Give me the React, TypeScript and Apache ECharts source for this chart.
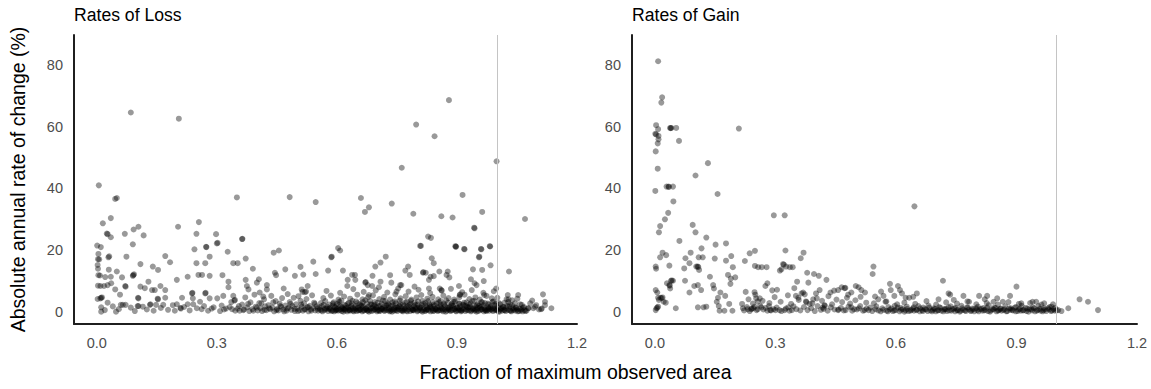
import React, { useEffect, useRef } from "react";
import * as echarts from "echarts";

const FONT = "'Liberation Sans', Arial, Helvetica, sans-serif";

const xTicks = [0, 0.3, 0.6, 0.9, 1.2];
const yTicks = [0, 20, 40, 60, 80];
const thresholdX = 1.0;

// ---------- Rates of Loss ----------
const lossHigh: number[][] = [
  [0.085, 64.6], [0.205, 62.6], [0.88, 68.6], [0.798, 60.7], [0.844, 56.9], [0.762, 46.7], [0.999, 48.8],
  [0.005, 41.0], [0.046, 36.6], [0.05, 36.9], [0.35, 37.1], [0.482, 37.2], [0.547, 35.6], [0.66, 36.9],
  [0.67, 32.4], [0.68, 33.9], [0.737, 35.1], [0.791, 31.8], [0.914, 37.9], [0.861, 31.0], [0.889, 30.6],
  [0.963, 32.4], [0.943, 27.3], [1.07, 30.1], [0.015, 28.7], [0.035, 30.4], [0.025, 25.4], [0.027, 25.2],
  [0.035, 24.2], [0.07, 25.3], [0.092, 26.7], [0.104, 27.6], [0.117, 24.8], [0.09, 21.9], [0.001, 21.5],
  [0.01, 21.0], [0.203, 27.6], [0.255, 29.1], [0.249, 25.3], [0.298, 25.2], [0.3, 22.2], [0.302, 22.4],
  [0.363, 23.6], [0.273, 21.1], [0.244, 20.3], [0.835, 24.0], [0.808, 21.4], [0.896, 21.3], [0.897, 21.1],
  [0.918, 20.4], [0.96, 20.4], [0.982, 21.3], [0.603, 20.7], [0.608, 19.9], [0.442, 19.2], [0.455, 19.9],
  [0.327, 19.5], [0.828, 24.4], [0.944, 27.1],
];

const lossMid: number[][] = [
  [0.004, 18.8], [0.003, 17.1], [0.006, 17.0], [0.002, 15.2], [0.003, 14.0], [0.004, 11.9], [0.008, 11.8],
  [0.003, 8.5], [0.009, 8.4], [0.002, 4.2], [0.009, 4.4], [0.011, 0.1], [0.011, 1.5], [0.029, 17.7],
  [0.031, 18.0], [0.021, 11.3], [0.03, 13.7], [0.018, 8.4], [0.027, 8.7], [0.036, 9.3], [0.035, 11.4],
  [0.011, 4.6], [0.013, 4.7], [0.027, 3.0], [0.046, 7.3], [0.05, 13.1], [0.058, 5.6], [0.063, 11.2],
  [0.074, 17.9], [0.09, 11.7], [0.091, 11.9], [0.093, 12.2], [0.071, 8.4], [0.072, 8.2], [0.072, 2.3],
  [0.065, 2.3], [0.06, 2.3], [0.048, 0.1], [0.103, 4.6], [0.104, 4.4], [0.104, 1.9], [0.102, 1.9],
  [0.109, 8.2], [0.109, 15.5], [0.12, 7.7], [0.129, 9.8], [0.133, 2.3], [0.134, 2.5], [0.14, 14.7],
  [0.153, 13.6], [0.138, 7.1], [0.145, 7.1], [0.153, 4.1], [0.152, 4.3], [0.148, 2.3], [0.159, 8.4],
  [0.171, 18.1], [0.171, 7.1], [0.171, 4.6], [0.166, 2.3], [0.183, 16.1], [0.2, 10.4], [0.2, 2.5],
  [0.209, 1.3], [0.21, 1.1], [0.213, 4.6], [0.227, 11.4], [0.227, 2.5], [0.241, 2.5], [0.249, 15.8],
  [0.238, 6.0], [0.239, 6.2], [0.24, 4.4], [0.25, 1.2], [0.254, 12.0], [0.263, 12.0], [0.258, 3.3],
  [0.271, 15.8], [0.271, 6.0], [0.272, 6.2], [0.274, 21.0], [0.282, 17.9], [0.282, 11.7], [0.282, 4.4],
  [0.287, 1.1], [0.301, 4.4], [0.314, 11.9], [0.316, 5.2], [0.323, 1.1], [0.329, 9.8], [0.329, 8.0],
  [0.341, 15.8], [0.352, 15.8], [0.341, 5.2], [0.344, 3.7], [0.345, 3.9], [0.338, 0.9], [0.364, 23.7],
  [0.372, 17.3], [0.372, 10.4], [0.375, 8.4], [0.379, 7.3], [0.39, 14.0], [0.4, 9.5], [0.405, 10.6],
  [0.407, 6.3], [0.416, 5.0], [0.425, 8.7], [0.425, 7.3], [0.445, 12.7], [0.448, 11.9], [0.467, 7.6],
  [0.471, 13.8], [0.495, 11.7], [0.509, 14.6], [0.512, 7.3], [0.516, 12.1], [0.514, 6.5], [0.52, 6.4],
  [0.523, 6.6], [0.527, 8.4], [0.541, 16.3], [0.547, 12.3], [0.578, 13.4], [0.587, 17.9], [0.586, 17.7],
  [0.615, 13.4], [0.626, 8.4], [0.627, 10.4], [0.638, 12.0], [0.645, 12.0], [0.646, 10.4], [0.671, 9.5],
  [0.672, 9.7], [0.677, 8.7], [0.68, 5.5], [0.688, 8.4], [0.689, 11.7], [0.696, 14.7], [0.709, 16.0],
  [0.722, 17.9], [0.709, 9.8], [0.705, 8.0], [0.733, 11.9], [0.736, 9.5], [0.749, 6.6], [0.758, 8.7],
  [0.761, 8.7], [0.771, 13.4], [0.778, 14.7], [0.782, 12.0], [0.794, 8.2], [0.81, 21.4], [0.815, 12.7],
  [0.816, 12.9], [0.822, 12.7], [0.83, 10.4], [0.834, 11.4], [0.837, 17.4], [0.842, 15.8], [0.842, 11.6],
  [0.83, 7.6], [0.856, 13.1], [0.857, 7.6], [0.861, 7.1], [0.874, 12.0], [0.877, 13.1], [0.881, 11.2],
  [0.898, 21.2], [0.907, 5.5], [0.908, 5.7], [0.905, 8.4], [0.919, 20.3], [0.935, 10.6], [0.94, 13.8],
  [0.944, 9.3], [0.949, 8.7], [0.955, 17.7], [0.956, 17.9], [0.961, 20.3], [0.963, 13.6], [0.967, 10.0],
  [0.968, 5.5], [0.983, 21.2], [0.984, 15.1], [0.998, 7.6], [1.03, 13.1], [1.027, 5.5], [1.053, 5.5],
  [1.088, 3.7], [1.115, 5.7], [1.12, 3.3], [1.136, 1.2], [1.11, 0.9], [1.112, 1.1], [1.12, 2.2],
  [1.098, 2.2], [1.079, 1.2], [1.029, 4.1], [1.038, 3.8], [1.091, 1.2], [1.105, 0.8],
  [0.02, 0.6], [0.04, 1.8], [0.055, 0.9], [0.085, 1.4], [0.095, 0.3], [0.115, 1.7], [0.125, 0.8],
  [0.142, 0.4], [0.16, 1.3], [0.178, 0.7], [0.19, 2.2], [0.195, 0.4], [0.218, 1.6], [0.232, 0.5],
  [0.262, 0.9], [0.268, 1.9], [0.278, 0.4], [0.292, 1.5], [0.308, 0.3], [0.312, 2.1], [0.318, 0.8],
  [0.332, 1.6], [0.336, 3.2], [0.346, 0.4],
];

const lossLowLeft: number[][] = [
  [0.352, 1.1], [0.357, 0.4], [0.363, 2.4], [0.368, 0.8], [0.371, 4.7], [0.376, 1.5], [0.381, 0.3],
  [0.384, 3.1], [0.389, 0.9], [0.394, 5.6], [0.397, 1.7], [0.402, 0.5], [0.406, 2.9], [0.409, 1.2],
  [0.413, 0.3], [0.418, 4.1], [0.421, 1.8], [0.424, 0.6], [0.429, 2.2], [0.433, 0.9], [0.436, 5.2],
  [0.439, 1.4], [0.443, 0.2], [0.447, 3.5], [0.451, 1.0], [0.454, 0.5], [0.457, 2.7], [0.461, 1.6],
  [0.463, 4.5], [0.466, 0.8], [0.471, 2.1], [0.474, 0.4], [0.477, 5.8], [0.479, 1.3], [0.482, 3.2],
  [0.486, 0.7], [0.489, 1.9], [0.492, 4.6], [0.495, 0.3], [0.498, 2.5], [0.501, 1.1], [0.504, 5.1],
  [0.507, 0.6], [0.509, 3.6], [0.512, 1.7], [0.515, 0.4], [0.518, 2.8], [0.521, 0.9], [0.524, 4.2],
  [0.526, 1.5], [0.529, 0.2], [0.532, 2.0], [0.535, 0.8], [0.538, 5.4], [0.541, 1.2], [0.543, 3.0],
  [0.546, 0.5], [0.549, 1.8],
  [0.355, 1.9], [0.366, 0.6], [0.378, 2.6], [0.391, 0.4], [0.4, 1.4], [0.411, 2.8], [0.419, 0.7],
  [0.431, 1.2], [0.441, 3.1], [0.449, 0.6], [0.459, 1.9], [0.468, 0.2], [0.476, 1.1], [0.484, 2.6],
  [0.494, 1.0], [0.503, 0.3], [0.511, 2.4], [0.519, 0.8], [0.528, 1.6], [0.536, 0.4], [0.545, 2.6],
  [0.552, 1.1], [0.561, 0.5], [0.567, 2.3], [0.575, 1.2],
];

const lossBandLow: number[][] = [
  [0.553, 0.4], [0.558, 0.8], [0.564, 0.2], [0.569, 0.6], [0.573, 0.9], [0.578, 0.3], [0.584, 0.7],
  [0.589, 0.5], [0.593, 0.2], [0.598, 0.9], [0.603, 0.4], [0.607, 0.7], [0.612, 0.3], [0.617, 0.8],
  [0.621, 0.5], [0.626, 0.2], [0.631, 0.6], [0.635, 0.9], [0.64, 0.4], [0.645, 0.7], [0.649, 0.3],
  [0.654, 0.5], [0.659, 0.8], [0.663, 0.2], [0.668, 0.6], [0.672, 0.9], [0.677, 0.4], [0.682, 0.7],
  [0.686, 0.3], [0.691, 0.5], [0.696, 0.8], [0.7, 0.2], [0.705, 0.6], [0.709, 0.4], [0.714, 0.9],
  [0.719, 0.3], [0.723, 0.7], [0.728, 0.5], [0.732, 0.2], [0.737, 0.8], [0.742, 0.4], [0.746, 0.6],
  [0.751, 0.3], [0.755, 0.9], [0.76, 0.5], [0.765, 0.2], [0.769, 0.7], [0.774, 0.4], [0.778, 0.8],
  [0.783, 0.3], [0.788, 0.6], [0.792, 0.5], [0.797, 0.9], [0.801, 0.2], [0.806, 0.7], [0.811, 0.4],
  [0.815, 0.6], [0.82, 0.3], [0.824, 0.8], [0.829, 0.5], [0.834, 0.2], [0.838, 0.7], [0.843, 0.4],
  [0.847, 0.9], [0.852, 0.3], [0.857, 0.6], [0.861, 0.5], [0.866, 0.2], [0.87, 0.8], [0.875, 0.4],
  [0.88, 0.7], [0.884, 0.3], [0.889, 0.6], [0.893, 0.9], [0.898, 0.2], [0.903, 0.5], [0.907, 0.7],
  [0.912, 0.4], [0.916, 0.8], [0.921, 0.3], [0.926, 0.6], [0.93, 0.5], [0.935, 0.2], [0.939, 0.9],
  [0.944, 0.4], [0.949, 0.7], [0.953, 0.3], [0.958, 0.6], [0.962, 0.8], [0.967, 0.2], [0.972, 0.5],
  [0.976, 0.7], [0.981, 0.4], [0.985, 0.9], [0.99, 0.3], [0.995, 0.6], [0.999, 0.5], [1.004, 0.2],
  [1.009, 0.8], [1.013, 0.4], [1.018, 0.6], [1.022, 0.3], [1.027, 0.7], [1.032, 0.5], [1.036, 0.2],
  [1.041, 0.6], [1.046, 0.4], [1.05, 0.8], [1.055, 0.3], [1.06, 0.5], [1.064, 0.2], [1.069, 0.6],
  [1.074, 0.4],
];

const lossBandExtra: number[][] = [
  [0.581, 1.0], [0.587, 0.3], [0.594, 1.6], [0.599, 0.6], [0.605, 2.3], [0.611, 0.9], [0.616, 0.1],
  [0.623, 1.3], [0.629, 0.7], [0.636, 2.0], [0.642, 0.2], [0.648, 1.1], [0.655, 0.6], [0.661, 1.8],
  [0.667, 0.4], [0.674, 1.2], [0.68, 0.1], [0.687, 2.4], [0.693, 0.8], [0.699, 1.5], [0.706, 0.3],
  [0.712, 1.0], [0.718, 0.6], [0.725, 2.2], [0.731, 0.9], [0.738, 0.1], [0.744, 1.4], [0.75, 0.7],
  [0.757, 1.9], [0.763, 0.4], [0.77, 1.1], [0.776, 0.2], [0.782, 2.3], [0.789, 0.8], [0.795, 1.4],
  [0.802, 0.5], [0.808, 1.2], [0.814, 0.1], [0.821, 2.1], [0.827, 0.9], [0.833, 1.5], [0.84, 0.3],
  [0.846, 1.0], [0.853, 0.6], [0.859, 2.4], [0.865, 0.8], [0.872, 0.1], [0.878, 1.3], [0.885, 0.6],
  [0.891, 1.9], [0.897, 0.4], [0.904, 1.1], [0.91, 0.2], [0.917, 2.2], [0.923, 0.8], [0.929, 1.5],
  [0.936, 0.5], [0.942, 1.2], [0.949, 0.1], [0.955, 2.0], [0.961, 0.9], [0.968, 1.4], [0.974, 0.3],
  [0.98, 1.0], [0.987, 0.7], [0.993, 2.3], [1.0, 0.8], [1.006, 0.1], [1.012, 1.3], [1.019, 0.6],
  [1.026, 1.9], [1.034, 0.4], [1.043, 1.0], [1.052, 0.2], [1.061, 0.9], [1.071, 0.3],
];

const lossBandExtra2: number[][] = [
  [0.59, 2.7], [0.597, 0.5], [0.606, 3.3], [0.613, 1.5], [0.62, 0.9], [0.627, 2.6], [0.633, 0.4],
  [0.639, 3.6], [0.646, 1.4], [0.652, 2.9], [0.658, 0.7], [0.664, 2.1], [0.671, 3.8], [0.676, 0.5],
  [0.684, 2.5], [0.689, 1.3], [0.695, 3.2], [0.701, 0.6], [0.708, 2.0], [0.715, 3.7], [0.721, 1.2],
  [0.727, 2.8], [0.734, 0.4], [0.74, 2.2], [0.745, 3.4], [0.752, 1.3], [0.758, 2.6], [0.764, 0.7],
  [0.771, 3.1], [0.777, 1.9], [0.785, 3.6], [0.79, 0.6], [0.796, 2.3], [0.803, 3.4], [0.809, 1.5],
  [0.816, 2.7], [0.823, 0.5], [0.828, 3.5], [0.835, 1.8], [0.842, 2.4], [0.848, 0.7], [0.855, 3.1],
  [0.86, 1.4], [0.867, 2.7], [0.873, 3.8], [0.879, 0.9], [0.886, 2.2], [0.892, 3.3], [0.899, 1.3],
  [0.906, 2.6], [0.911, 0.6], [0.918, 3.0], [0.925, 1.6], [0.931, 2.4], [0.938, 3.5], [0.945, 0.8],
  [0.95, 2.2], [0.957, 1.4], [0.963, 3.1], [0.97, 0.6], [0.977, 2.7], [0.983, 1.5], [0.991, 3.4],
  [0.996, 1.0], [1.005, 2.9], [1.015, 1.7], [1.028, 3.2], [1.038, 2.1], [1.048, 1.3], [1.058, 2.5],
  [1.068, 1.6], [1.083, 2.8], [1.095, 1.7],
];

const lossBandMid: number[][] = [
  [0.556, 1.4], [0.562, 1.9], [0.57, 1.1], [0.576, 1.7], [0.583, 1.3], [0.59, 2.1], [0.596, 1.5],
  [0.602, 1.0], [0.609, 1.8], [0.615, 1.2], [0.622, 2.0], [0.628, 1.4], [0.634, 1.6], [0.641, 1.1],
  [0.647, 1.9], [0.653, 1.3], [0.66, 2.2], [0.666, 1.5], [0.673, 1.0], [0.679, 1.7], [0.685, 1.2],
  [0.692, 2.0], [0.698, 1.4], [0.704, 1.8], [0.711, 1.1], [0.717, 1.6], [0.723, 2.1], [0.73, 1.3],
  [0.736, 1.9], [0.743, 1.0], [0.749, 1.5], [0.755, 1.8], [0.762, 1.2], [0.768, 2.0], [0.774, 1.4],
  [0.781, 1.7], [0.787, 1.1], [0.793, 1.9], [0.8, 1.3], [0.806, 1.6], [0.812, 2.2], [0.819, 1.0],
  [0.825, 1.5], [0.832, 1.8], [0.838, 1.2], [0.844, 2.0], [0.851, 1.4], [0.857, 1.7], [0.863, 1.1],
  [0.87, 1.9], [0.876, 1.3], [0.882, 1.6], [0.889, 2.1], [0.895, 1.0], [0.901, 1.5], [0.908, 1.8],
  [0.914, 1.2], [0.921, 2.0], [0.927, 1.4], [0.933, 1.7], [0.94, 1.1], [0.946, 1.9], [0.952, 1.3],
  [0.959, 1.6], [0.965, 2.2], [0.971, 1.0], [0.978, 1.5], [0.984, 1.8], [0.99, 1.2], [0.997, 2.0],
  [1.003, 1.4], [1.01, 1.1], [1.016, 1.6], [1.023, 1.3], [1.031, 1.8], [1.039, 1.2], [1.047, 1.5],
  [1.056, 1.1], [1.065, 1.4], [1.078, 1.2],
];

const lossBandHigh: number[][] = [
  [0.56, 2.9], [0.571, 3.5], [0.581, 2.4], [0.592, 3.1], [0.6, 2.6], [0.611, 3.7], [0.619, 2.3],
  [0.63, 3.0], [0.638, 2.7], [0.648, 3.4], [0.657, 2.5], [0.665, 3.2], [0.675, 2.8], [0.683, 3.6],
  [0.694, 2.4], [0.702, 3.0], [0.712, 2.6], [0.72, 3.5], [0.729, 2.3], [0.739, 3.1], [0.747, 2.8],
  [0.757, 3.7], [0.765, 2.5], [0.775, 3.3], [0.784, 2.7], [0.794, 3.0], [0.802, 2.4], [0.813, 3.6],
  [0.821, 2.9], [0.831, 2.5], [0.84, 3.2], [0.849, 2.7], [0.859, 3.5], [0.868, 2.3], [0.878, 3.0],
  [0.887, 2.6], [0.896, 3.4], [0.905, 2.8], [0.915, 2.4], [0.924, 3.1], [0.934, 2.7], [0.943, 3.6],
  [0.951, 2.5], [0.961, 3.2], [0.97, 2.9], [0.979, 2.4], [0.989, 3.3], [0.998, 2.7], [1.008, 2.5],
  [1.019, 3.0], [1.033, 2.4], [1.045, 2.8], [1.062, 2.3],
  [0.566, 4.5], [0.585, 5.3], [0.604, 4.0], [0.618, 5.0], [0.633, 4.3], [0.651, 5.6], [0.664, 4.1],
  [0.678, 4.8], [0.69, 5.4], [0.706, 4.2], [0.718, 4.9], [0.733, 4.0], [0.746, 5.7], [0.759, 4.4],
  [0.772, 5.1], [0.786, 4.0], [0.799, 4.7], [0.811, 5.5], [0.826, 4.3], [0.839, 4.9], [0.853, 4.1],
  [0.866, 5.3], [0.879, 4.5], [0.893, 4.0], [0.906, 4.8], [0.919, 5.6], [0.931, 4.2], [0.946, 4.7],
  [0.957, 4.0], [0.974, 5.2], [0.987, 4.4], [1.001, 4.6], [1.024, 4.1], [1.051, 4.3],
  [0.574, 6.8], [0.608, 6.2], [0.641, 7.4], [0.667, 6.5], [0.697, 7.0], [0.726, 6.3], [0.753, 7.6],
  [0.779, 6.6], [0.804, 7.2], [0.833, 6.1], [0.862, 6.9], [0.885, 7.5], [0.913, 6.4], [0.937, 7.1],
  [0.966, 6.2], [0.992, 6.7],
];

// ---------- Rates of Gain ----------
const gainHigh: number[][] = [
  [0.008, 81.2], [0.018, 69.5], [0.016, 67.8], [0.003, 60.5], [0.008, 59.2], [0.001, 57.7], [0.003, 57.5],
  [0.009, 57.0], [0.009, 55.9], [0.007, 54.6], [0.002, 52.0], [0.038, 59.6], [0.039, 59.5], [0.041, 59.6],
  [0.053, 59.6], [0.06, 55.4], [0.209, 59.4], [0.007, 46.4], [0.132, 48.2], [0.101, 44.2], [0.029, 40.6],
  [0.034, 40.6], [0.035, 40.5], [0.045, 40.6], [0.001, 39.2], [0.156, 38.2], [0.046, 35.8], [0.646, 34.2],
  [0.033, 32.1], [0.296, 31.3], [0.323, 31.3], [0.025, 30.0], [0.013, 27.8], [0.01, 25.8], [0.094, 28.2],
  [0.101, 25.8], [0.128, 24.1], [0.151, 21.8], [0.177, 22.2], [0.061, 23.0], [0.116, 20.6],
];

const gainMid: number[][] = [
  [0.002, 14.7], [0.003, 14.0], [0.002, 7.1], [0.006, 6.3], [0.008, 4.6], [0.01, 3.9], [0.002, 0.6],
  [0.004, 1.2], [0.008, 1.7], [0.006, 1.4], [0.014, 4.6], [0.017, 4.5], [0.019, 4.7], [0.022, 3.3],
  [0.027, 3.0], [0.013, 17.7], [0.019, 19.2], [0.028, 18.4], [0.036, 15.0], [0.04, 10.1], [0.042, 10.2],
  [0.045, 10.1], [0.03, 9.3], [0.036, 8.7], [0.037, 8.5], [0.038, 7.6], [0.052, 1.2], [0.073, 14.1],
  [0.075, 10.1], [0.076, 17.4], [0.086, 6.3], [0.089, 19.2], [0.086, 15.8], [0.098, 8.4], [0.107, 8.7],
  [0.103, 14.7], [0.106, 14.7], [0.108, 14.6], [0.11, 13.6], [0.115, 7.1], [0.107, 1.5], [0.109, 17.7],
  [0.119, 17.7], [0.121, 1.5], [0.128, 1.7], [0.137, 11.4], [0.145, 8.7], [0.147, 7.6], [0.149, 17.3],
  [0.154, 3.3], [0.159, 1.9], [0.157, 4.6], [0.163, 6.3], [0.161, 0.4], [0.173, 0.4], [0.175, 5.2],
  [0.177, 16.6], [0.182, 12.0], [0.188, 9.1], [0.189, 10.8], [0.19, 18.1], [0.194, 14.5], [0.2, 11.2],
  [0.185, 2.6], [0.193, 0.4], [0.217, 2.6], [0.224, 16.5], [0.226, 6.5], [0.236, 19.0], [0.249, 19.8],
  [0.249, 14.9], [0.257, 14.5], [0.266, 14.5], [0.278, 14.5], [0.219, 1.2], [0.231, 0.9], [0.24, 0.9],
  [0.241, 1.1], [0.248, 1.7], [0.256, 0.9], [0.265, 1.5], [0.248, 6.4], [0.25, 5.6], [0.252, 4.4],
  [0.256, 3.4], [0.261, 4.4], [0.275, 8.4], [0.28, 9.3], [0.28, 0.4], [0.287, 0.6], [0.289, 0.5],
  [0.292, 7.0], [0.304, 7.2], [0.311, 13.4], [0.315, 13.8], [0.319, 15.5], [0.321, 15.3], [0.325, 19.9],
  [0.327, 14.7], [0.336, 14.5], [0.343, 14.5], [0.3, 0.6], [0.31, 0.6], [0.323, 0.6], [0.332, 1.5],
  [0.341, 0.6], [0.347, 7.7], [0.354, 9.8], [0.363, 17.4], [0.37, 19.2], [0.379, 12.7], [0.382, 9.5],
  [0.396, 12.3], [0.408, 11.7], [0.427, 10.4], [0.351, 5.2], [0.357, 4.6], [0.365, 6.0], [0.369, 6.3],
  [0.376, 3.4], [0.377, 3.2], [0.385, 2.6], [0.394, 4.1], [0.401, 6.0], [0.41, 7.1], [0.418, 1.4],
  [0.422, 2.2], [0.423, 2.0], [0.437, 6.3], [0.446, 6.9], [0.456, 7.1], [0.465, 8.0], [0.472, 7.7],
  [0.474, 7.8], [0.481, 5.6], [0.489, 6.3], [0.5, 8.4], [0.507, 8.0], [0.514, 7.1], [0.523, 6.3],
  [0.456, 0.6], [0.457, 0.8], [0.475, 0.6], [0.489, 1.5], [0.496, 0.9], [0.508, 1.2], [0.522, 0.6],
  [0.542, 12.3], [0.544, 14.7], [0.548, 5.0], [0.556, 4.1], [0.563, 6.6], [0.569, 5.2], [0.576, 3.4],
  [0.585, 9.1], [0.587, 7.1], [0.596, 5.2], [0.605, 8.4], [0.61, 7.1], [0.615, 6.0], [0.624, 4.6],
  [0.633, 4.6], [0.643, 4.9], [0.652, 6.0], [0.717, 10.1], [0.731, 6.0], [0.735, 5.6], [0.706, 4.1],
  [0.744, 3.9], [0.768, 5.2], [0.782, 3.3], [0.807, 5.2], [0.821, 4.1], [0.827, 5.2], [0.843, 3.3],
  [0.852, 4.4], [0.866, 3.3], [0.884, 5.2], [0.9, 8.2], [0.912, 2.8], [0.94, 3.3], [0.949, 3.3],
  [0.969, 2.8], [0.987, 1.7], [1.029, 1.2], [1.057, 4.1], [1.078, 3.3], [1.103, 0.6],
];

const gainLowLeft: number[][] = [
  [0.222, 0.5], [0.229, 1.6], [0.236, 0.3], [0.245, 1.2], [0.253, 0.6], [0.262, 2.0], [0.27, 0.8],
  [0.276, 1.3], [0.284, 1.9], [0.295, 0.9], [0.303, 1.4], [0.315, 0.3], [0.326, 1.1], [0.335, 0.4],
  [0.345, 1.8], [0.352, 0.9], [0.362, 0.5], [0.371, 1.6], [0.38, 0.6], [0.389, 1.2], [0.398, 0.3],
  [0.405, 1.9], [0.413, 0.7], [0.42, 1.0], [0.43, 0.4], [0.438, 1.5], [0.447, 0.8], [0.463, 1.3],
  [0.47, 0.5], [0.482, 1.7], [0.491, 0.4], [0.503, 0.8], [0.511, 1.9], [0.518, 0.4], [0.527, 1.1],
  [0.233, 4.1], [0.244, 2.7], [0.268, 3.6], [0.285, 2.9], [0.298, 4.8], [0.313, 3.3], [0.331, 5.4],
  [0.339, 2.6], [0.358, 3.9], [0.373, 5.7], [0.392, 2.8], [0.403, 4.4], [0.416, 3.6], [0.432, 5.1],
  [0.441, 2.5], [0.452, 4.0], [0.466, 3.2], [0.478, 4.6], [0.486, 2.7], [0.499, 3.8], [0.512, 4.9],
  [0.526, 3.0],
];

const gainBand: number[][] = [
  [0.532, 0.6], [0.541, 0.3], [0.549, 0.9], [0.556, 0.5], [0.562, 0.2], [0.569, 0.7], [0.577, 0.4],
  [0.585, 0.8], [0.592, 0.3], [0.6, 0.6], [0.609, 0.2], [0.617, 0.9], [0.624, 0.5], [0.631, 0.3],
  [0.638, 0.7], [0.645, 0.4], [0.652, 0.8], [0.659, 0.2], [0.665, 0.6], [0.672, 0.9], [0.679, 0.3],
  [0.686, 0.5], [0.692, 0.7], [0.699, 0.2], [0.706, 0.6], [0.713, 0.4], [0.72, 0.8], [0.727, 0.3],
  [0.733, 0.5], [0.74, 0.9], [0.747, 0.2], [0.754, 0.6], [0.761, 0.4], [0.767, 0.7], [0.774, 0.3],
  [0.781, 0.8], [0.788, 0.5], [0.795, 0.2], [0.802, 0.6], [0.808, 0.9], [0.815, 0.4], [0.822, 0.7],
  [0.829, 0.3], [0.836, 0.5], [0.843, 0.8], [0.85, 0.2], [0.856, 0.6], [0.863, 0.4], [0.87, 0.9],
  [0.877, 0.3], [0.884, 0.7], [0.891, 0.5], [0.898, 0.2], [0.905, 0.8], [0.911, 0.4], [0.918, 0.6],
  [0.925, 0.3], [0.932, 0.9], [0.939, 0.5], [0.946, 0.2], [0.953, 0.7], [0.96, 0.4], [0.967, 0.6],
  [0.974, 0.3], [0.981, 0.8], [0.988, 0.5], [0.995, 0.4], [1.004, 0.6], [1.012, 0.3],
  [0.536, 1.4], [0.551, 1.8], [0.566, 1.2], [0.581, 1.6], [0.597, 2.0], [0.612, 1.3], [0.627, 1.7],
  [0.642, 1.1], [0.656, 1.9], [0.668, 1.4], [0.681, 2.1], [0.694, 1.2], [0.708, 1.6], [0.722, 1.0],
  [0.736, 1.8], [0.749, 1.3], [0.763, 2.0], [0.777, 1.5], [0.79, 1.1], [0.804, 1.7], [0.818, 1.3],
  [0.831, 2.2], [0.845, 1.4], [0.859, 1.0], [0.872, 1.8], [0.886, 1.2], [0.899, 1.6], [0.913, 2.0],
  [0.927, 1.1], [0.941, 1.5], [0.955, 1.9], [0.968, 1.2], [0.982, 1.6], [0.996, 1.3],
  [0.545, 2.8], [0.574, 3.3], [0.603, 2.5], [0.621, 3.0], [0.648, 2.6], [0.676, 3.5], [0.7, 2.4],
  [0.725, 3.1], [0.752, 2.7], [0.778, 3.4], [0.8, 2.5], [0.826, 2.9], [0.854, 2.4], [0.88, 3.2],
  [0.906, 2.6], [0.934, 2.9], [0.962, 2.4], [0.991, 2.5],
];

const gainBandExtra: number[][] = [
  [0.58, 0.2], [0.589, 1.1], [0.596, 0.5], [0.604, 1.4], [0.613, 0.7], [0.621, 0.1], [0.628, 1.0],
  [0.636, 0.4], [0.644, 1.5], [0.651, 0.6], [0.66, 1.2], [0.667, 0.3], [0.675, 0.8], [0.683, 1.4],
  [0.69, 0.2], [0.697, 1.0], [0.704, 0.5], [0.711, 1.3], [0.718, 0.2], [0.725, 0.9], [0.731, 1.5],
  [0.738, 0.4], [0.745, 1.1], [0.752, 0.6], [0.759, 0.1], [0.765, 1.2], [0.772, 0.5], [0.779, 1.4],
  [0.786, 0.3], [0.793, 0.9], [0.8, 1.2], [0.806, 0.2], [0.813, 1.0], [0.82, 0.5], [0.827, 1.4],
  [0.834, 0.1], [0.841, 0.9], [0.848, 1.3], [0.854, 0.4], [0.861, 1.1], [0.868, 0.6], [0.875, 0.2],
  [0.882, 1.2], [0.889, 0.7], [0.896, 1.4], [0.903, 0.3], [0.909, 1.0], [0.916, 0.5], [0.923, 1.3],
  [0.93, 0.1], [0.937, 0.9], [0.944, 1.2], [0.951, 0.4], [0.958, 1.0], [0.965, 0.2], [0.972, 0.8],
  [0.979, 1.2], [0.986, 0.3], [0.993, 0.9], [1.0, 0.5],
];

const lossData = [
  ...lossHigh, ...lossMid, ...lossLowLeft, ...lossBandLow, ...lossBandExtra, ...lossBandExtra2,
  ...lossBandMid, ...lossBandHigh,
];
const gainData = [...gainHigh, ...gainMid, ...gainLowLeft, ...gainBand, ...gainBandExtra];

export default function App() {
  const ref = useRef<HTMLDivElement>(null);

  useEffect(() => {
    if (!ref.current) return;
    const chart = echarts.init(ref.current, null, { renderer: "svg" });

    const axisLineStyle = { color: "#1f1f1f", width: 2 };
    const labelStyle = { color: "#4d4d4d", fontSize: 14.5, fontFamily: FONT };

    const makeX = (i: number) => ({
      gridIndex: i,
      type: "value",
      min: -0.057,
      max: 1.2,
      splitLine: { show: false },
      axisTick: { show: false },
      axisLine: { show: true, onZero: false, lineStyle: axisLineStyle },
      axisLabel: {
        ...labelStyle,
        margin: 11,
        customValues: xTicks,
        formatter: (v: number) => v.toFixed(1),
      },
    });

    const makeY = (i: number) => ({
      gridIndex: i,
      type: "value",
      min: -3.9,
      max: 89.7,
      splitLine: { show: false },
      axisTick: { show: false },
      axisLine: { show: true, onZero: false, lineStyle: axisLineStyle },
      axisLabel: { ...labelStyle, margin: 11, customValues: yTicks },
      ...(i === 0
        ? {
            name: "Absolute annual rate of change (%)",
            nameLocation: "middle",
            nameRotate: 90,
            nameGap: 46,
            nameTextStyle: { fontSize: 19.5, color: "#000", fontFamily: FONT },
          }
        : {}),
    });

    const makeSeries = (i: number, data: number[][]) => ({
      type: "scatter",
      xAxisIndex: i,
      yAxisIndex: i,
      data,
      symbolSize: 6,
      itemStyle: { color: "rgba(0,0,0,0.5)", borderWidth: 0 },
      emphasis: { disabled: true },
      markLine: {
        silent: true,
        symbol: "none",
        label: { show: false },
        lineStyle: { color: "#c4c4c4", width: 1, type: "solid" },
        data: [{ xAxis: thresholdX }],
      },
    });

    chart.setOption({
      animation: false,
      backgroundColor: "#ffffff",
      textStyle: { fontFamily: FONT },
      title: [
        {
          text: "Rates of Loss",
          left: 74,
          top: 6,
          padding: 0,
          textStyle: { fontSize: 17.6, fontWeight: "normal", color: "#000", fontFamily: FONT },
        },
        {
          text: "Rates of Gain",
          left: 632,
          top: 6,
          padding: 0,
          textStyle: { fontSize: 17.6, fontWeight: "normal", color: "#000", fontFamily: FONT },
        },
        {
          text: "Fraction of maximum observed area",
          left: "center",
          top: 362,
          padding: 0,
          textStyle: { fontSize: 19.5, fontWeight: "normal", color: "#000", fontFamily: FONT },
        },
      ],
      grid: [
        { left: 74, top: 35, width: 503, height: 289 },
        { left: 632, top: 35, width: 505, height: 289 },
      ],
      xAxis: [makeX(0), makeX(1)],
      yAxis: [makeY(0), makeY(1)],
      series: [makeSeries(0, lossData), makeSeries(1, gainData)],
    });

    return () => chart.dispose();
  }, []);

  return (
    <div
      ref={ref}
      style={{ position: "fixed", left: 0, top: 0, width: 1151, height: 389, background: "#fff" }}
    />
  );
}
